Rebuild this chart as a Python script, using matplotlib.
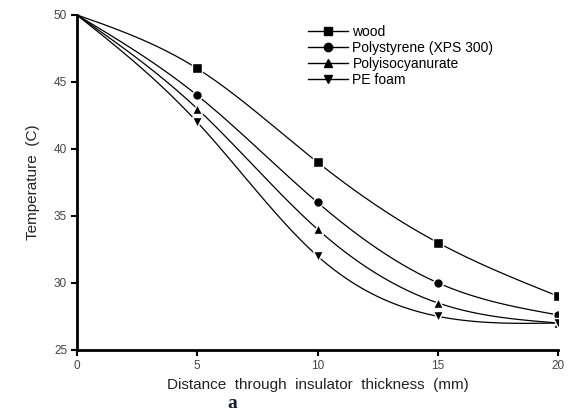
import numpy as np
import matplotlib.pyplot as plt
from matplotlib.lines import Line2D

plt.rcParams['font.family'] = ['Liberation Sans', 'DejaVu Sans']

distance = [0, 5, 10, 15, 20]
wood = [50, 46, 39, 33, 29]
polystyrene = [50, 44, 36, 30, 27.6]
polyiso = [50, 43, 34, 28.5, 27.0]
pe_foam = [50, 42, 32, 27.5, 27.0]

names = ['wood', 'Polystyrene (XPS 300)', 'Polyisocyanurate', 'PE foam']
markers = ['s', 'o', '^', 'v']
series = [wood, polystyrene, polyiso, pe_foam]


def natural_spline(x, y, xs):
    # natural cubic spline, used only to draw the smooth line
    x = np.asarray(x, float)
    y = np.asarray(y, float)
    n = len(x)
    h = np.diff(x)
    A = np.zeros((n, n))
    b = np.zeros(n)
    A[0, 0] = A[-1, -1] = 1
    for i in range(1, n - 1):
        A[i, i - 1] = h[i - 1]
        A[i, i] = 2 * (h[i - 1] + h[i])
        A[i, i + 1] = h[i]
        b[i] = 6 * ((y[i + 1] - y[i]) / h[i] - (y[i] - y[i - 1]) / h[i - 1])
    M = np.linalg.solve(A, b)
    k = np.clip(np.searchsorted(x, xs) - 1, 0, n - 2)
    t0 = x[k + 1] - xs
    t1 = xs - x[k]
    hk = h[k]
    return (M[k] * t0 ** 3 / (6 * hk) + M[k + 1] * t1 ** 3 / (6 * hk)
            + (y[k] / hk - M[k] * hk / 6) * t0
            + (y[k + 1] / hk - M[k + 1] * hk / 6) * t1)


fig = plt.figure(figsize=(5.69, 4.13), dpi=100)
ax = fig.add_axes([0.135, 0.153, 0.846, 0.811])

xs = np.linspace(0, 20, 300)
handles = []
for y, m, name in zip(series, markers, names):
    ax.plot(xs, natural_spline(distance, y, xs), color='black', lw=0.9)
    ax.plot(distance[1:], y[1:], ls='none', marker=m, ms=7, color='black',
            mec='white', mew=1.0)
    handles.append(Line2D([], [], color='black', lw=1, marker=m, ms=6))

ax.set_xlim(0, 20)
ax.set_ylim(25, 50)
ax.set_xticks([0, 5, 10, 15, 20])
ax.set_yticks([25, 30, 35, 40, 45, 50])
for s in ['top', 'right']:
    ax.spines[s].set_visible(False)
for s in ['left', 'bottom']:
    ax.spines[s].set_linewidth(2)
ax.tick_params(direction='out', length=4, width=1.5, labelsize=8.5,
               labelcolor='#444444', pad=3)

ax.set_xlabel('Distance  through  insulator  thickness  (mm)', fontsize=11,
              labelpad=5, color='#222222')
ax.set_ylabel('Temperature  (C)', fontsize=11, labelpad=10, color='#222222')

ax.legend(handles, names, loc='upper left', bbox_to_anchor=(0.46, 1.0),
          frameon=False, fontsize=10, handlelength=2.9, handletextpad=0.3,
          labelspacing=0.15, borderaxespad=0.3)

fig.text(0.40, 0.012, 'a', fontsize=14, fontweight='bold',
         family='Liberation Serif', color='#1a1a30')

fig.savefig('out.png', dpi=100)
